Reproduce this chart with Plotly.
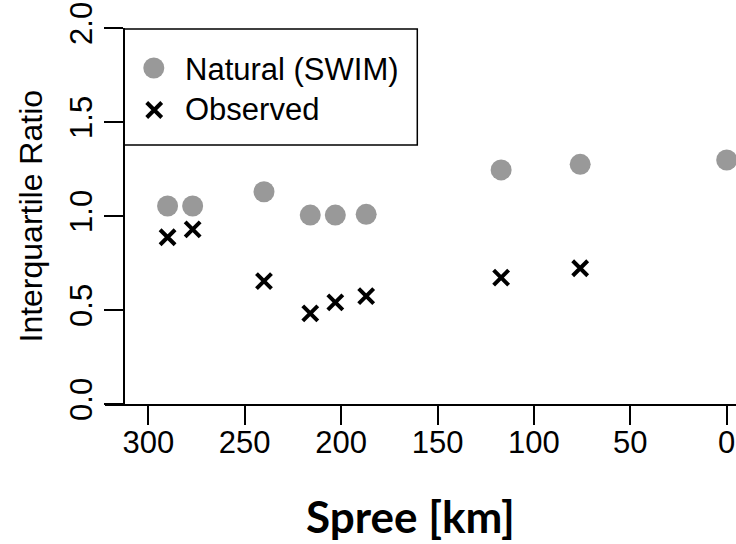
import plotly.graph_objects as go

# River kilometre along the Spree (0 = mouth)
river_km = [290, 277, 240, 216, 203, 187, 117, 76, 0]
# Interquartile ratio of simulated natural flow (SWIM) and of observed flow
natural_swim = [1.053, 1.053, 1.129, 1.005, 1.005, 1.009, 1.245, 1.275, 1.298]
observed = [0.887, 0.929, 0.654, 0.482, 0.541, 0.574, 0.672, 0.722, None]

x_ticks = [300, 250, 200, 150, 100, 50, 0]
y_ticks = [0.0, 0.5, 1.0, 1.5, 2.0]

W, H = 736, 544
L, R, T, B = 105, 0, 28, 140
PW, PH = W - L - R, H - T - B


def px(x):
    return (x - L) / PW


def py(y):
    return (H - B - y) / PH


AX_FONT = dict(family="Liberation Sans, Arial, sans-serif", size=31, color="black")

fig = go.Figure()
fig.add_trace(go.Scatter(
    x=river_km, y=natural_swim, mode="markers", name="Natural (SWIM)",
    marker=dict(symbol="circle", size=21, color="#999999", line=dict(width=0)),
))
fig.add_trace(go.Scatter(
    x=river_km, y=observed, mode="markers", name="Observed",
    marker=dict(symbol="x-thin", size=15, color="black",
                line=dict(width=4, color="black")),
))

fig.update_layout(
    width=W, height=H,
    margin=dict(l=L, r=R, t=T, b=B, pad=0),
    paper_bgcolor="white", plot_bgcolor="white",
    showlegend=False,
    xaxis=dict(
        range=[322.46, -4.82], tickvals=x_ticks, ticktext=[str(v) for v in x_ticks],
        showgrid=False, zeroline=False, showline=True, linecolor="black", linewidth=1.5,
        ticks="outside", ticklen=19, tickwidth=1.5, tickcolor="black",
        tickfont=AX_FONT, ticklabelstandoff=-9,
    ),
    yaxis=dict(
        range=[0, 2.0], tickvals=y_ticks, tickformat=".1f",
        anchor="free", position=px(124),
        showgrid=False, zeroline=False, showline=True, linecolor="black", linewidth=1.5,
        ticks="outside", ticklen=19, tickwidth=1.5, tickcolor="black",
        tickangle=-90, tickfont=AX_FONT,
    ),
)

# Legend frame, symbols and labels
fig.add_shape(type="rect", xref="paper", yref="paper",
              x0=px(124), x1=px(417.3), y0=py(145), y1=py(29),
              line=dict(color="black", width=1.5), fillcolor="white", layer="below")
fig.add_shape(type="circle", xref="paper", yref="paper",
              xsizemode="pixel", ysizemode="pixel",
              xanchor=px(153.8), yanchor=py(68),
              x0=-10.5, x1=10.5, y0=-10.5, y1=10.5,
              fillcolor="#999999", line=dict(width=0))
fig.add_shape(type="path", xref="paper", yref="paper",
              xsizemode="pixel", ysizemode="pixel",
              xanchor=px(154.2), yanchor=py(110),
              path="M-7.5,-7.5 L7.5,7.5 M-7.5,7.5 L7.5,-7.5",
              line=dict(color="black", width=4))

LEG_FONT = dict(family="Liberation Sans, Arial, sans-serif", size=31, color="black")
fig.add_annotation(text="Natural (SWIM)", xref="paper", yref="paper",
                   x=px(183), y=py(69), xanchor="left", yanchor="middle",
                   showarrow=False, font=LEG_FONT)
fig.add_annotation(text="Observed", xref="paper", yref="paper",
                   x=px(183), y=py(109), xanchor="left", yanchor="middle",
                   showarrow=False, font=LEG_FONT)

# Axis titles
fig.add_annotation(text="Interquartile Ratio", xref="paper", yref="paper",
                   x=px(30.5), y=0.5, xanchor="center", yanchor="middle",
                   textangle=-90, showarrow=False,
                   font=dict(family="Liberation Sans, Arial, sans-serif", size=32, color="black"))
fig.add_annotation(text="<b>Spree [km]</b>", xref="paper", yref="paper",
                   x=px(410), y=py(515.5), xanchor="center", yanchor="middle",
                   showarrow=False,
                   font=dict(family="Lato, sans-serif", size=44, color="black"))

fig.write_html("out.html")
